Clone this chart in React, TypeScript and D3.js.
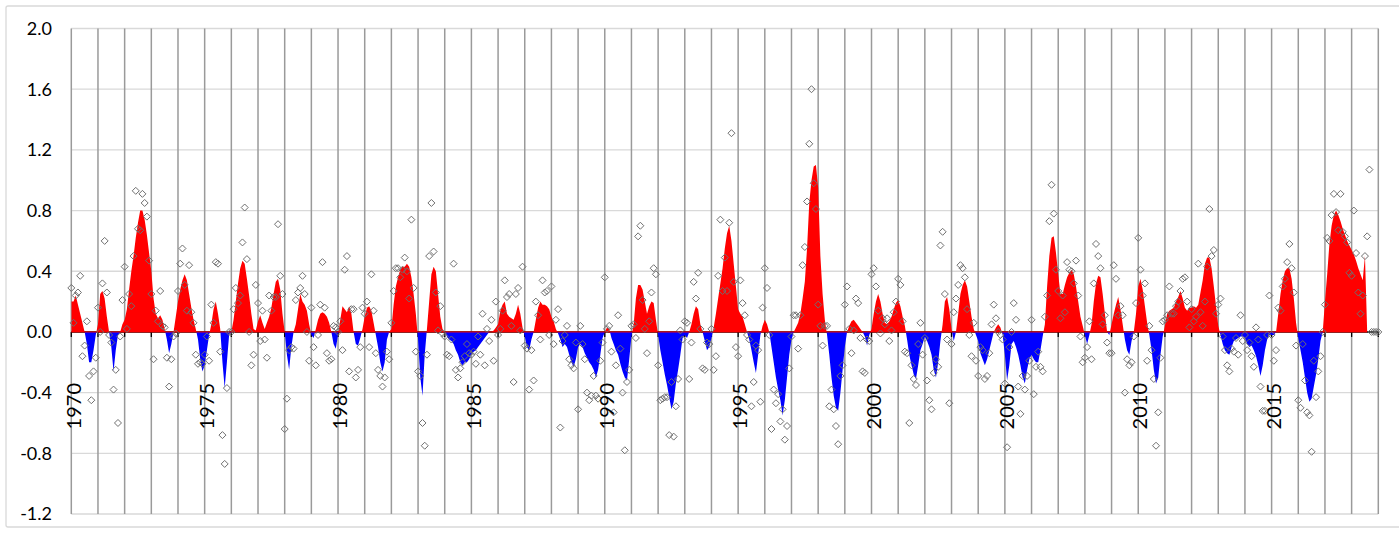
import React from 'react';
import * as d3 from 'd3';

// Year tick labels shown on the category axis
const yearLabels = [1970, 1975, 1980, 1985, 1990, 1995, 2000, 2005, 2010, 2015];
const yTicks = [-1.2, -0.8, -0.4, 0.0, 0.4, 0.8, 1.2, 1.6, 2.0];
const startYear = 1970;
const endYear = 2019;

// Smoothed index (monthly, from Jan 1970), drawn as red/blue area
const smoothed: number[] = [
  0.2, 0.2, 0.24, 0.18, 0.12, 0.06, 0, -0.08, -0.2, -0.2, -0.12, -0.02,
  0.05, 0.25, 0.27, 0.22, 0.1, 0, -0.1, -0.26, -0.12, -0.02, 0, 0.05,
  0.08, 0.15, 0.28, 0.4, 0.5, 0.62, 0.72, 0.8, 0.8, 0.74, 0.64, 0.52,
  0.4, 0.22, 0.12, 0.09, 0.11, 0.08, 0.02, -0.05, -0.14, -0.08, 0, 0.1,
  0.2, 0.28, 0.34, 0.38, 0.34, 0.25, 0.16, 0.08, 0.02, -0.05, -0.18, -0.26,
  -0.22, -0.12, -0.02, 0.05, 0.15, 0.2, 0.12, 0.02, -0.2, -0.37, -0.2, -0.02,
  0, 0.08, 0.2, 0.32, 0.42, 0.47, 0.45, 0.35, 0.24, 0.12, 0.02, 0.01,
  0.07, 0.11, 0.06, 0.02, 0.06, 0.1, 0.16, 0.25, 0.33, 0.35, 0.28, 0.12,
  0, -0.15, -0.25, -0.1, 0, 0.05, 0.15, 0.25, 0.2, 0.18, 0.14, 0.05,
  -0.02, -0.04, 0.02, 0.08, 0.12, 0.13, 0.12, 0.1, 0.06, 0, -0.08, -0.11,
  -0.02, 0.08, 0.17, 0.15, 0.13, 0.17, 0.12, 0, -0.08, -0.09, -0.04, 0.02,
  0.1, 0.16, 0.17, 0.14, 0.06, -0.02, -0.1, -0.2, -0.26, -0.2, -0.05, 0,
  0.02, 0.18, 0.3, 0.36, 0.41, 0.43, 0.43, 0.45, 0.43, 0.36, 0.25, 0.12,
  -0.05, -0.3, -0.42, -0.15, 0.02, 0.2, 0.38, 0.43, 0.4, 0.25, 0.1, 0.02,
  0, -0.03, -0.05, -0.06, -0.08, -0.12, -0.15, -0.2, -0.22, -0.2, -0.2, -0.18,
  -0.15, -0.13, -0.12, -0.1, -0.08, -0.06, -0.04, -0.02, 0, 0, 0.01, 0.03,
  0.05, 0.14, 0.18, 0.2, 0.12, 0.1, 0.09, 0.08, 0.12, 0.18, 0.12, 0.03,
  -0.03, -0.1, -0.12, -0.05, 0, 0.08, 0.16, 0.2, 0.18, 0.18, 0.17, 0.15,
  0.1, 0.07, 0.02, -0.01, -0.05, -0.1, -0.08, -0.1, -0.15, -0.2, -0.23, -0.18,
  -0.1, -0.08, -0.1, -0.14, -0.17, -0.2, -0.22, -0.25, -0.3, -0.25, -0.15, -0.04,
  0, 0.03, 0.02, -0.04, -0.08, -0.12, -0.15, -0.21, -0.26, -0.3, -0.32, -0.18,
  -0.03, 0.05, 0.22, 0.31, 0.31, 0.28, 0.2, 0.12, 0.17, 0.2, 0.19, 0.08,
  -0.02, -0.12, -0.2, -0.28, -0.35, -0.43, -0.51, -0.46, -0.34, -0.25, -0.15, -0.04,
  -0.02, -0.04, 0, 0.05, 0.12, 0.17, 0.15, 0.05, 0, -0.06, -0.12, -0.1,
  -0.04, 0.03, 0.12, 0.22, 0.32, 0.42, 0.55, 0.65, 0.7, 0.6, 0.45, 0.3,
  0.15, 0.12, 0.1, 0.05, 0, -0.05, -0.12, -0.2, -0.27, -0.15, -0.02, 0.04,
  0.08, 0.05, 0, -0.1, -0.2, -0.3, -0.38, -0.45, -0.55, -0.45, -0.3, -0.15,
  -0.05, 0, 0.03, 0.06, 0.12, 0.22, 0.33, 0.55, 0.85, 1.0, 1.09, 1.1,
  0.95, 0.5, 0.25, 0.08, -0.02, -0.15, -0.3, -0.42, -0.5, -0.52, -0.4, -0.25,
  -0.1, 0, 0.04, 0.07, 0.08, 0.06, 0.04, 0.02, 0, -0.03, -0.09, -0.02,
  0.02, 0.12, 0.2, 0.25, 0.2, 0.12, 0.06, 0.05, 0.07, 0.1, 0.15, 0.19,
  0.21, 0.17, 0.1, 0.04, -0.05, -0.15, -0.22, -0.28, -0.31, -0.22, -0.12, -0.08,
  -0.03, -0.06, -0.1, -0.15, -0.25, -0.3, -0.2, -0.06, 0.05, 0.2, 0.23, 0.15,
  0.02, -0.06, 0, 0.12, 0.25, 0.31, 0.34, 0.3, 0.2, 0.1, 0.02, -0.02,
  -0.06, -0.14, -0.18, -0.22, -0.18, -0.12, -0.06, 0, 0.03, 0.05, 0.03, -0.02,
  -0.15, -0.32, -0.22, -0.08, -0.06, -0.1, -0.15, -0.22, -0.3, -0.34, -0.25, -0.18,
  -0.15, -0.18, -0.2, -0.2, -0.12, -0.03, 0.05, 0.3, 0.5, 0.62, 0.63, 0.52,
  0.38, 0.25, 0.25, 0.31, 0.36, 0.39, 0.41, 0.38, 0.3, 0.2, 0.1, 0.04,
  -0.02, -0.08, -0.02, 0.05, 0.2, 0.32, 0.37, 0.36, 0.25, 0.12, 0, -0.02,
  0.05, 0.12, 0.18, 0.23, 0.15, 0.05, -0.05, -0.12, -0.15, -0.06, 0, 0.12,
  0.3, 0.35, 0.28, 0.17, 0.06, -0.02, -0.12, -0.25, -0.34, -0.3, -0.15, -0.03,
  0.04, 0.12, 0.14, 0.15, 0.16, 0.2, 0.23, 0.27, 0.22, 0.16, 0.14, 0.16,
  0.16, 0.17, 0.16, 0.18, 0.26, 0.34, 0.45, 0.49, 0.49, 0.42, 0.3, 0.17,
  0.04, -0.02, -0.08, -0.12, -0.14, -0.15, -0.1, -0.06, -0.05, -0.04, -0.03, -0.03,
  -0.04, -0.08, -0.1, -0.09, -0.12, -0.16, -0.22, -0.29, -0.22, -0.12, -0.05, -0.02,
  -0.02, -0.02, 0, 0.12, 0.25, 0.34, 0.4, 0.42, 0.42, 0.35, 0.22, 0.06,
  -0.04, -0.12, -0.2, -0.3, -0.4, -0.46, -0.44, -0.36, -0.28, -0.18, -0.06, 0,
  0.2, 0.38, 0.58, 0.7, 0.77, 0.8, 0.77, 0.73, 0.68, 0.64, 0.6, 0.57,
  0.54, 0.51, 0.47, 0.42, 0.38, 0.34, 0.5, 0, 0, 0, 0, 0,
];

// Monthly index values (from Jan 1970), drawn as diamond markers
const monthly: number[] = [
  0.29, 0.06, 0.24, 0.26, 0.37, -0.16, -0.09, 0.07, -0.29, -0.45, -0.26, -0.17,
  0.16, 0.0, 0.32, 0.6, 0.26, -0.02, -0.07, -0.38, -0.25, -0.6, -0.03, 0.21,
  0.43, 0.02, 0.25, 0.17, 0.5, 0.93, 0.68, 0.67, 0.91, 0.85, 0.76, 0.47,
  0.25, -0.18, 0.14, 0.07, 0.27, 0.04, 0.03, -0.17, -0.36, -0.18, -0.03, -0.01,
  0.27, 0.45, 0.55, 0.31, 0.14, 0.44, 0.13, 0.06, -0.15, -0.21, -0.2, -0.21,
  -0.15, -0.03, -0.19, 0.18, 0.06, 0.46, 0.45, -0.13, -0.68, -0.87, -0.37, 0.0,
  0.0, 0.15, 0.29, 0.19, 0.24, 0.59, 0.82, 0.48, 0.0, -0.22, -0.15, 0.31,
  0.19, -0.06, 0.14, -0.05, -0.17, 0.24, 0.14, 0.23, 0.23, 0.71, 0.37, 0.25,
  -0.64, -0.44, -0.12, -0.1, -0.11, 0.21, 0.26, 0.29, 0.37, 0.25, 0.0, -0.19,
  0.16, -0.1, -0.22, -0.02, 0.18, 0.46, 0.16, -0.14, -0.19, -0.18, 0.04, 0.03,
  0.0, 0.07, -0.12, 0.41, 0.5, -0.26, 0.15, 0.15, -0.3, -0.25, -0.1, 0.16,
  0.12, 0.2, -0.1, 0.38, 0.14, -0.14, -0.25, -0.29, -0.36, -0.3, -0.13, -0.18,
  0.06, 0.27, 0.42, 0.42, 0.36, 0.41, 0.49, 0.4, 0.22, 0.74, 0.29, -0.13,
  -0.26, -0.29, -0.6, -0.75, -0.15, 0.5, 0.85, 0.53, 0.26, 0.01, 0.17, -0.01,
  -0.03, -0.15, -0.16, -0.05, 0.45, -0.25, -0.3, -0.24, -0.2, -0.16, -0.08, -0.14,
  -0.15, -0.13, -0.21, -0.03, -0.15, 0.12, -0.22, 0.02, -0.06, 0.08, -0.19, 0.2,
  -0.02, 0.02, 0.14, 0.34, 0.23, 0.25, 0.04, -0.33, 0.25, 0.29, 0.01, 0.43,
  -0.09, -0.11, -0.38, -0.12, -0.32, 0.2, 0.11, -0.05, 0.34, 0.26, 0.27, -0.02,
  0.3, -0.08, 0.08, 0.15, -0.63, -0.06, -0.02, 0.04, -0.18, -0.22, -0.24, -0.07,
  -0.51, 0.04, -0.08, -0.18, -0.4, -0.45, -0.42, -0.29, -0.42, -0.44, -0.19, -0.07,
  0.36, 0.02, 0.04, -0.13, -0.53, -0.22, 0.11, -0.11, -0.4, -0.78, -0.33, -0.25,
  0.04, 0.05, -0.04, 0.63, 0.7, 0.21, 0.02, -0.14, 0.07, 0.26, 0.42, 0.38,
  -0.22, -0.45, -0.44, -0.43, -0.43, -0.68, -0.33, -0.69, -0.49, -0.31, 0.01, -0.05,
  0.07, 0.06, -0.31, -0.07, 0.33, 0.22, 0.39, 0.02, -0.24, -0.25, -0.07, -0.08,
  0.02, -0.25, -0.16, 0.37, 0.74, 0.27, 0.49, 0.27, 0.72, 1.31, 0.33, -0.1,
  -0.16, 0.34, 0.19, 0.11, -0.02, -0.05, -0.49, -0.33, -0.09, -0.12, -0.46, 0.16,
  0.42, 0.29, -0.02, -0.64, -0.38, -0.47, -0.41, -0.59, -0.51, -0.71, -0.62, -0.24,
  -0.03, 0.11, 0.11, -0.11, 0.11, 0.44, 0.56, 0.86, 1.24, 1.6, 0.98, 0.81,
  0.18, 0.04, -0.09, 0.04, 0.04, -0.49, -0.38, -0.51, -0.62, -0.74, -0.29, -0.22,
  0.18, 0.3, 0.02, -0.14, 0.01, 0.22, 0.19, -0.04, -0.26, -0.27, -0.05, -0.06,
  0.38, 0.42, 0.3, 0.14, -0.01, 0.09, 0.05, 0.09, -0.06, 0.01, 0.13, 0.2,
  0.35, 0.31, 0.07, -0.13, -0.14, -0.6, -0.22, -0.31, -0.35, -0.08, 0.06, -0.15,
  -0.04, -0.32, -0.45, -0.51, -0.27, -0.18, -0.23, 0.57, 0.66, 0.25, -0.05, -0.47,
  -0.08, 0.13, 0.22, 0.31, 0.44, 0.42, 0.36, 0.15, -0.02, -0.16, 0.06, -0.19,
  -0.29, -0.1, -0.12, -0.31, -0.29, -0.14, 0.05, 0.18, 0.09, 0.0, -0.02, -0.05,
  -0.34, -0.76, -0.1, 0.0, 0.19, 0.08, -0.36, -0.54, -0.29, -0.38, -0.29, -0.19,
  0.08, -0.41, -0.23, -0.13, -0.23, -0.26, 0.1, 0.24, 0.73, 0.97, 0.78, 0.41,
  0.27, 0.09, 0.24, 0.13, 0.46, 0.41, 0.4, 0.32, 0.47, 0.24, -0.03, -0.2,
  -0.17, -0.1, 0.07, -0.18, 0.32, 0.58, 0.5, 0.42, 0.05, 0.11, -0.07, -0.14,
  -0.14, 0.44, 0.35, 0.11, 0.17, 0.11, -0.4, -0.18, -0.22, -0.2, -0.03, 0.19,
  0.62, 0.41, 0.24, 0.32, -0.19, 0.04, -0.12, -0.31, -0.75, -0.53, -0.17, 0.07,
  0.08, 0.11, 0.3, 0.12, 0.12, 0.17, 0.2, 0.27, 0.35, 0.36, 0.2, 0.03,
  0.15, 0.07, 0.1, 0.45, 0.13, 0.04, 0.2, 0.43, 0.81, 0.5, 0.54, 0.12,
  0.18, 0.22, -0.03, -0.12, -0.22, -0.26, -0.11, -0.13, -0.04, -0.15, 0.11, -0.06,
  -0.02, -0.12, -0.07, -0.16, -0.23, 0.03, -0.05, -0.36, -0.52, -0.52, -0.02, 0.24,
  -0.02, -0.19, -0.12, 0.16, 0.14, 0.3, 0.35, 0.46, 0.58, 0.42, 0.26, -0.09,
  -0.45, -0.5, -0.08, -0.32, -0.53, -0.55, -0.79, -0.19, -0.43, -0.26, -0.16, 0.0,
  0.18, 0.62, 0.6, 0.77, 0.91, 0.79, 0.67, 0.91, 0.66, 0.63, 0.59, 0.39,
  0.37, 0.8, 0.52, 0.26, 0.12, 0.24, 0.5, 0.63, 1.07, 0, 0, 0,
  0,
];

const W = 1399;
const H = 533;

export default function App() {
  const x = d3.scaleLinear().domain([startYear, endYear]).range([71.3, 1378.3]);
  const y = d3.scaleLinear().domain([-1.2, 2.0]).range([514, 28.5]);
  const y0 = y(0);

  const smPts = smoothed.map((v, i) => ({ t: startYear + i / 12, v }));
  const moPts = monthly.map((v, i) => ({ t: startYear + i / 12, v }));

  const area = d3
    .area<{ t: number; v: number }>()
    .x((d) => x(d.t))
    .y0(y0)
    .y1((d) => y(d.v))
    .curve(d3.curveLinear);
  const areaPath = area(smPts) || '';

  const years = d3.range(startYear, endYear + 1);
  const r = 3.5;
  const diamond = `M0,${-r}L${r},0L0,${r}L${-r},0Z`;
  const fsY = 18;
  const fsX = 20;
  const font = 'Lato, "Open Sans", sans-serif';

  return (
    <svg
      width={W}
      height={H}
      style={{ position: 'absolute', left: 0, top: 0, display: 'block', background: '#fff' }}
    >
      <defs>
        <clipPath id="clipPos">
          <rect x={x(startYear)} y={0} width={x(endYear) - x(startYear)} height={y0} />
        </clipPath>
        <clipPath id="clipNeg">
          <rect x={x(startYear)} y={y0} width={x(endYear) - x(startYear)} height={H - y0} />
        </clipPath>
      </defs>
      <rect x={6} y={6} width={W + 10} height={521} fill="#fff" stroke="#d9d9d9" strokeWidth={1.3} rx={2} />

      {/* horizontal gridlines */}
      {yTicks.map((t) => (
        <line key={'h' + t} x1={x(startYear)} x2={x(endYear)} y1={y(t)} y2={y(t)} stroke="#d9d9d9" strokeWidth={1.3} />
      ))}
      {/* vertical gridlines, one per year */}
      {years.map((yr) => (
        <line key={'v' + yr} x1={x(yr)} x2={x(yr)} y1={y(2.0)} y2={y(-1.2)} stroke="#9a9a9a" strokeWidth={1.5} />
      ))}
      {/* tick marks on the zero axis */}
      {years.map((yr) => (
        <line key={'t' + yr} x1={x(yr)} x2={x(yr)} y1={y0} y2={y0 + 5} stroke="#000" strokeWidth={1.3} />
      ))}
      <line x1={x(startYear)} x2={x(endYear)} y1={y0} y2={y0} stroke="#000" strokeWidth={1.5} />

      {/* smoothed area */}
      <path d={areaPath} fill="#ff0000" clipPath="url(#clipPos)" />
      <path d={areaPath} fill="#0000ff" clipPath="url(#clipNeg)" />
      <line x1={x(startYear)} x2={x(2018 + 7 / 12)} y1={y0} y2={y0} stroke="#ff0000" strokeWidth={1} />

      {/* monthly markers */}
      {moPts.map((d, i) => (
        <path
          key={'m' + i}
          d={diamond}
          transform={`translate(${x(d.t)},${y(d.v)})`}
          fill="none"
          stroke="#6f6f6f"
          strokeWidth={1}
        />
      ))}

      {/* y axis labels */}
      {yTicks.map((t) => (
        <text
          key={'yl' + t}
          x={52}
          y={y(t) + fsY * 0.36}
          textAnchor="end"
          fontFamily={font}
          fontSize={fsY}
          fill="#000"
        >
          {t.toFixed(1)}
        </text>
      ))}

      {/* year labels, rotated */}
      {yearLabels.map((yr) => (
        <text
          key={'xl' + yr}
          transform={`translate(${x(yr) + 2 + fsX * 0.36},383) rotate(-90)`}
          textAnchor="end"
          fontFamily={font}
          fontSize={fsX}
          fill="#000"
        >
          {yr}
        </text>
      ))}
    </svg>
  );
}
